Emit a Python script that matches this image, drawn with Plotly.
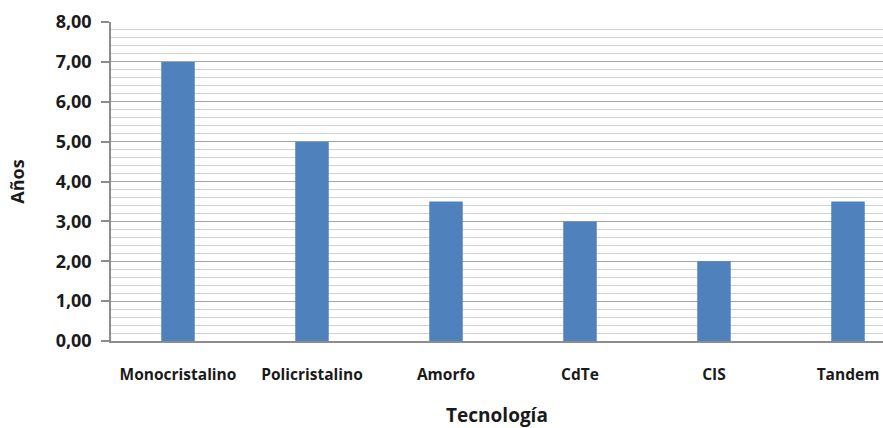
import plotly.graph_objects as go

categories = ["Monocristalino", "Policristalino", "Amorfo", "CdTe", "CIS", "Tandem"]
values = [7.0, 5.0, 3.5, 3.0, 2.0, 3.5]
y_ticks = [0, 1, 2, 3, 4, 5, 6, 7, 8]

font_family = "Open Sans, Lato, DejaVu Sans, sans-serif"

fig = go.Figure(go.Bar(
    x=list(range(len(categories))),
    y=values,
    width=0.25,
    marker=dict(color="#4F81BD", line=dict(width=0)),
))

left, top, bottom = 111, 22, 87
x_max = -0.5 + (883 - left) / 134.0

fig.update_layout(
    width=883, height=428,
    margin=dict(l=left, r=0, t=top, b=bottom, pad=0, autoexpand=False),
    plot_bgcolor="white", paper_bgcolor="white",
    separators=",.",
    showlegend=False,
    font=dict(family=font_family, color="#1a1a1a"),
    xaxis=dict(
        range=[-0.5, x_max],
        tickmode="array",
        tickvals=list(range(len(categories))),
        ticktext=categories,
        showgrid=False,
        showline=True, linecolor="#8c8c8c", linewidth=1.5,
        ticks="",
        ticklabelstandoff=19,
        tickfont=dict(size=15.5, family=font_family, weight="bold"),
        title=dict(text="Tecnología", font=dict(size=19, weight="bold"), standoff=32),
        automargin=False,
        fixedrange=True,
    ),
    yaxis=dict(
        range=[0, 8],
        tickmode="array",
        tickvals=y_ticks,
        tickformat=".2f",
        showgrid=True, gridcolor="#a3a3a3", gridwidth=1.2,
        minor=dict(dtick=0.2, showgrid=True, gridcolor="#d2d2d2", gridwidth=1.2, ticks=""),
        showline=True, linecolor="#8c8c8c", linewidth=1.5,
        ticks="outside", ticklen=8, tickcolor="#8c8c8c", tickwidth=1.5,
        ticklabelstandoff=6,
        tickfont=dict(size=18, family=font_family, weight="bold"),
        title=dict(text="Años", font=dict(size=18, weight="bold"), standoff=26),
        zeroline=False,
        automargin=False,
        fixedrange=True,
    ),
)

fig.write_html(
    "out.html",
    config={"displayModeBar": False},
    post_script="document.body.style.margin='0';document.body.style.overflow='hidden';",
)
